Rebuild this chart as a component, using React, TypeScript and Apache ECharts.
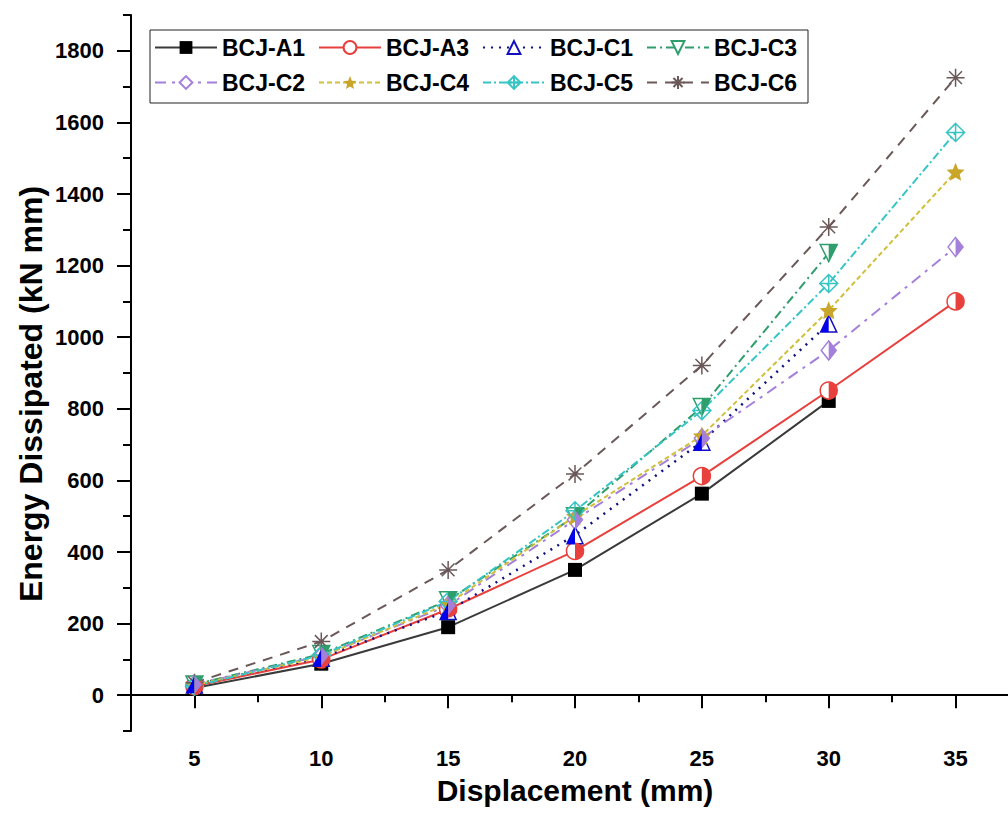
import React, { useEffect, useRef } from "react";
import * as echarts from "echarts";

const xValues = [5, 10, 15, 20, 25, 30, 35];
const xLabelTicks = [5, 10, 15, 20, 25, 30, 35];
const xMinorTicks = [2.5, 7.5, 12.5, 17.5, 22.5, 27.5, 32.5, 37.5];
const yLabelTicks = [0, 200, 400, 600, 800, 1000, 1200, 1400, 1600, 1800];
const yMinorTicks = [-100, 100, 300, 500, 700, 900, 1100, 1300, 1500, 1700, 1900];

const bcjA1 = [20, 88, 190, 350, 563, 822];
const bcjA3 = [25, 100, 240, 403, 612, 851, 1100];
const bcjC1 = [30, 105, 235, 447, 708, 1038];
const bcjC3 = [30, 115, 265, 500, 805, 1235];
const bcjC2 = [30, 110, 250, 490, 718, 963, 1252];
const bcjC4 = [28, 108, 255, 500, 725, 1075, 1462];
const bcjC5 = [25, 112, 262, 515, 795, 1150, 1572];
const bcjC6 = [35, 150, 350, 618, 921, 1308, 1725];

const legendOrder = ["BCJ-A1", "BCJ-A3", "BCJ-C1", "BCJ-C3", "BCJ-C2", "BCJ-C4", "BCJ-C5", "BCJ-C6"];

const FONT = "'Liberation Sans', Arial, sans-serif";

const pts = (vals: number[]) => vals.map((v, i) => [xValues[i], v]);

const STAR = "path://M10,0 L12.9,6.9 L20,7.6 L14.6,12.3 L16.2,19.5 L10,15.8 L3.8,19.5 L5.4,12.3 L0,7.6 L7.1,6.9 Z";
const ASTER = "path://M10,0 L10,20 M0,10 L20,10 M2.9,2.9 L17.1,17.1 M17.1,2.9 L2.9,17.1";
const DIAMOND_CROSS = "path://M10,0 L20,10 L10,20 L0,10 Z M10,0 L10,20 M0,10 L20,10";
const TRI_DOWN = "path://M0,0 L20,0 L10,20 Z";
const HALF_CIRCLE_R = "path://M0,0 A10,10 0 0 1 0,20 Z";
const HALF_TRI_L = "path://M10,0 L10,20 L0,20 Z";
const HALF_TRIDOWN_R = "path://M0,0 L10,0 L0,20 Z";
const HALF_DIAMOND_R = "path://M0,0 L10,10 L0,20 Z";

export default function App() {
  const ref = useRef<HTMLDivElement>(null);
  useEffect(() => {
    document.body.style.margin = "0";
    const chart = echarts.init(ref.current!, undefined, { renderer: "svg" });

    const main = (name: string, data: number[], color: string, lineColor: string, dash: any, symbol: string, size: any, fill: string, bw = 1.5, lw = 2) => ({
      name,
      type: "line",
      data: pts(data),
      symbol,
      symbolSize: size,
      showSymbol: true,
      lineStyle: { color: lineColor, width: lw, type: dash },
      itemStyle: { color: fill, borderColor: color, borderWidth: bw },
      z: 3,
    });
    const half = (name: string, data: number[], color: string, symbol: string, size: any, offset: any) => ({
      name: name + "-fill",
      type: "line",
      data: pts(data),
      symbol,
      symbolSize: size,
      symbolOffset: offset,
      showSymbol: true,
      silent: true,
      lineStyle: { opacity: 0, width: 0 },
      itemStyle: { color, borderWidth: 0 },
      z: 4,
    });

    const option: any = {
      animation: false,
      backgroundColor: "#ffffff",
      grid: { left: 131, right: -11, top: 15, bottom: 99, containLabel: false, outerBoundsMode: "none" },
      legend: {
        data: legendOrder,
        left: 150,
        top: 30,
        width: 690,
        orient: "horizontal",
        borderColor: "#222",
        borderWidth: 1,
        padding: [4, 6, 7, 4],
        itemWidth: 62,
        itemHeight: 16,
        itemGap: 8,
        textStyle: { fontFamily: FONT, fontWeight: "bold", fontSize: 23, color: "#000", lineHeight: 27, width: 88 },
      },
      graphic: [
        {
          type: "text",
          x: 31,
          y: 394,
          rotation: Math.PI / 2,
          style: {
            text: "Energy Dissipated (kN mm)",
            fontFamily: FONT,
            fontWeight: "bold",
            fontSize: 32,
            fill: "#000",
            textAlign: "center",
            textVerticalAlign: "middle",
          },
        },
      ],
      xAxis: [
        {
          type: "value",
          min: 2.5,
          max: 37.5,
          position: "bottom",
          name: "Displacement (mm)",
          nameLocation: "middle",
          nameGap: 44,
          nameTextStyle: { fontFamily: FONT, fontWeight: "bold", fontSize: 30, color: "#000" },
          axisLine: { show: true, lineStyle: { color: "#000", width: 2 } },
          axisTick: { show: true, inside: false, length: 13, customValues: xLabelTicks, lineStyle: { color: "#000", width: 2 } },
          axisLabel: { customValues: xLabelTicks, margin: 16, fontFamily: FONT, fontWeight: "bold", fontSize: 22, color: "#000" },
          splitLine: { show: false },
        },
        {
          type: "value",
          min: 2.5,
          max: 37.5,
          position: "bottom",
          axisLine: { show: false },
          axisTick: { show: true, inside: false, length: 7, customValues: xMinorTicks, lineStyle: { color: "#000", width: 2 } },
          axisLabel: { show: false },
          splitLine: { show: false },
        },
      ],
      yAxis: [
        {
          type: "value",
          min: -100,
          max: 1900,
          position: "left",
          axisLine: { show: true, lineStyle: { color: "#000", width: 2 } },
          axisTick: { show: true, inside: false, length: 14, customValues: yLabelTicks, lineStyle: { color: "#000", width: 2 } },
          axisLabel: {
            customValues: yLabelTicks,
            formatter: (v: number) => String(v),
            margin: 27,
            fontFamily: FONT,
            fontWeight: "bold",
            fontSize: 22,
            color: "#000",
          },
          splitLine: { show: false },
        },
        {
          type: "value",
          min: -100,
          max: 1900,
          position: "left",
          axisLine: { show: false },
          axisTick: { show: true, inside: false, length: 8, customValues: yMinorTicks, lineStyle: { color: "#000", width: 2 } },
          axisLabel: { show: false },
          splitLine: { show: false },
        },
      ],
      series: [
        main("BCJ-A1", bcjA1, "#000000", "#3a3a3a", "solid", "rect", 14, "#000000", 0),
        main("BCJ-A3", bcjA3, "#e8403c", "#e8403c", "solid", "circle", 17, "#ffffff"),
        half("BCJ-A3", bcjA3, "#e8403c", HALF_CIRCLE_R, [8.5, 17], [4.25, 0]),
        main("BCJ-C1", bcjC1, "#1010c0", "#101080", [2, 6], "triangle", [16, 17], "#ffffff", 1.5, 2.5),
        half("BCJ-C1", bcjC1, "#0000ee", HALF_TRI_L, [8, 17], [-4, 0]),
        main("BCJ-C3", bcjC3, "#2e9e6c", "#2e9e6c", [9, 4, 2, 4], TRI_DOWN, [17, 17], "#ffffff"),
        half("BCJ-C3", bcjC3, "#2e9e6c", HALF_TRIDOWN_R, [8.5, 17], [4.25, 0]),
        main("BCJ-C2", bcjC2, "#a47fdc", "#a47fdc", [11, 6, 3, 6], "diamond", [15, 19], "#ffffff"),
        half("BCJ-C2", bcjC2, "#a47fdc", HALF_DIAMOND_R, [7.5, 19], [3.75, 0]),
        main("BCJ-C4", bcjC4, "#c9a52a", "#cfbf3a", [5, 3], STAR, 18, "#c9a52a", 0),
        main("BCJ-C5", bcjC5, "#36c4c4", "#36c4c4", [8, 3, 2, 3], DIAMOND_CROSS, 18, "rgba(255,255,255,0)", 1.5),
        main("BCJ-C6", bcjC6, "#6b5858", "#6b5858", [10, 8], ASTER, 18, "rgba(255,255,255,0)", 1.5),
      ],
    };
    chart.setOption(option);
    return () => chart.dispose();
  }, []);
  return <div ref={ref} style={{ width: 1008, height: 830 }} />;
}
